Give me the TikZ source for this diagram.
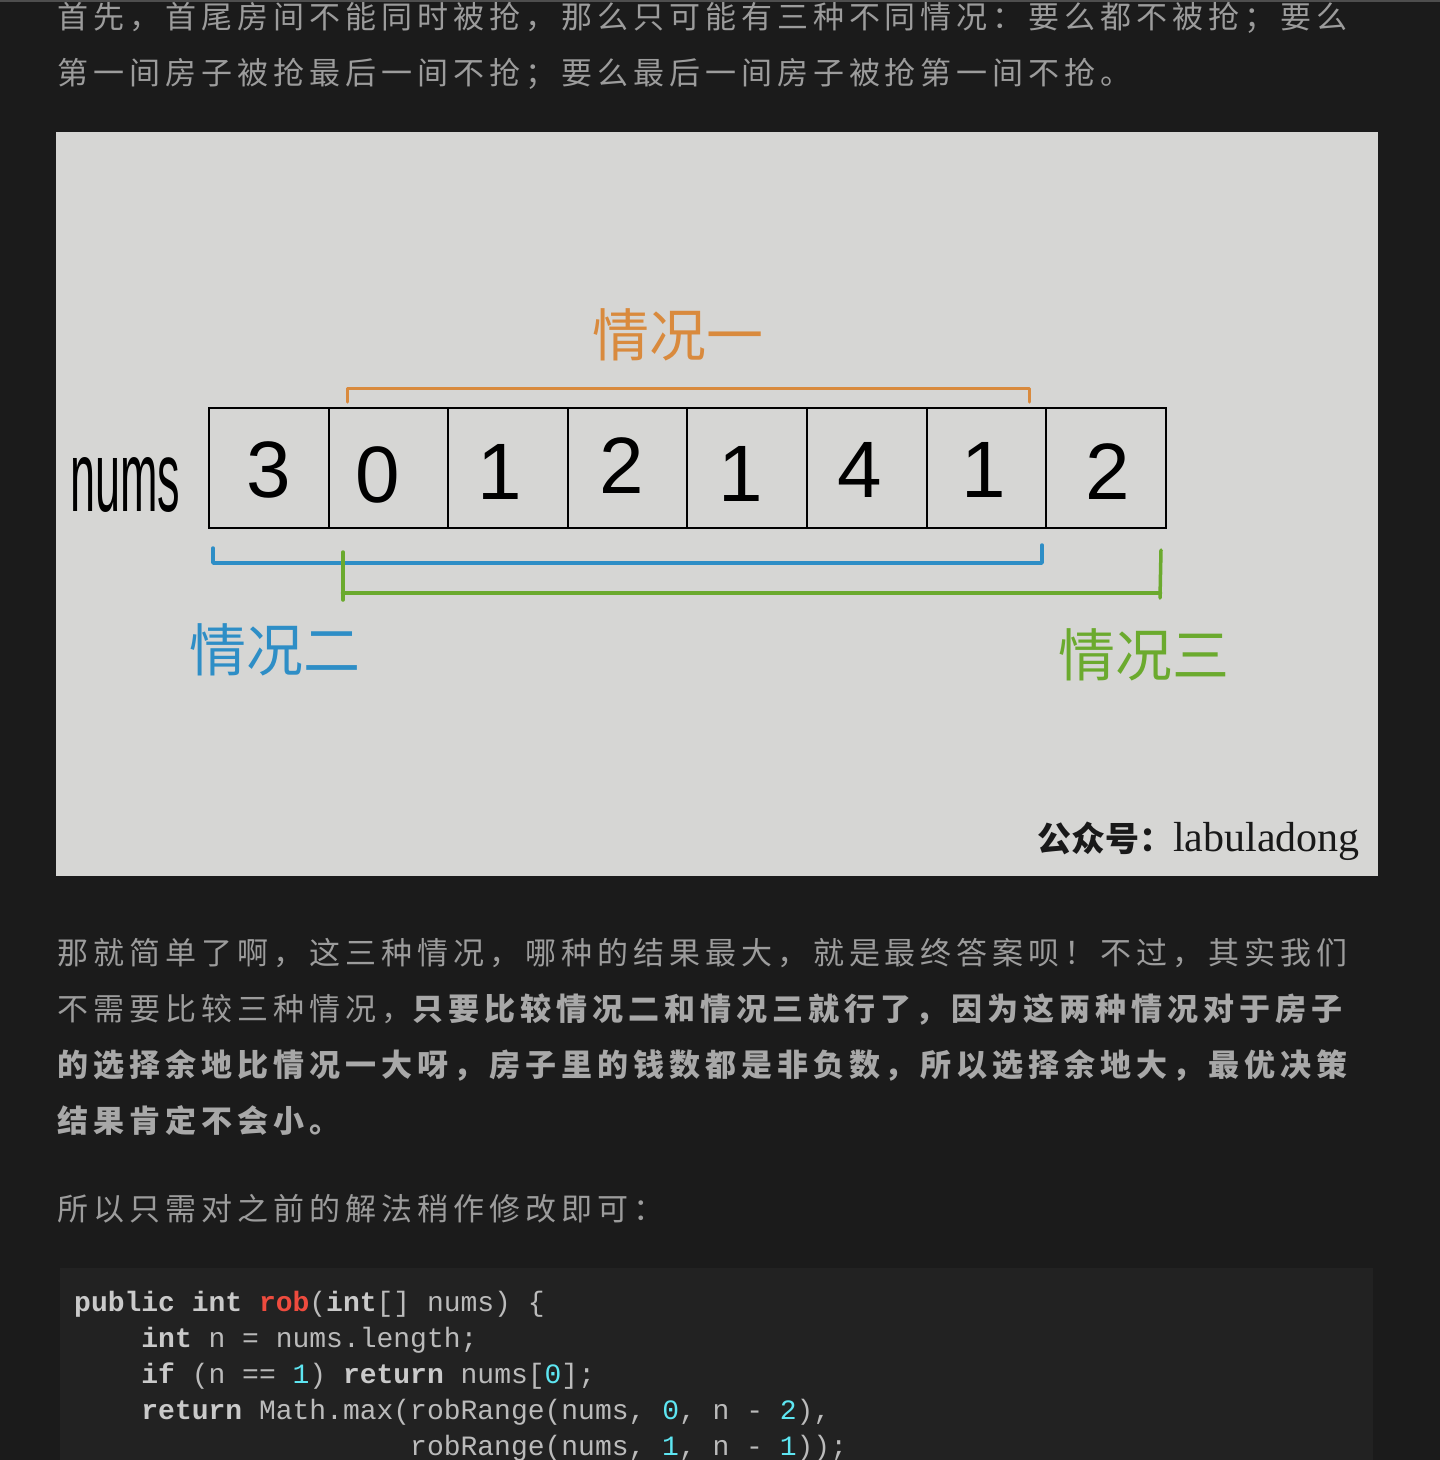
\documentclass[tikz,border=0pt]{standalone}
\usepackage{fontspec}
\setmainfont{Liberation Sans}
\newfontfamily\cjk{Noto Sans CJK SC}
\newfontfamily\bodycjk[LetterSpace=16.1]{Noto Sans CJK SC}
\newfontfamily\codefont{Liberation Mono}
\newfontfamily\wmserif{Liberation Serif}
\definecolor{pagebg}{HTML}{1B1B1B}
\definecolor{topbar}{HTML}{4E4E4E}
\definecolor{imgbg}{HTML}{D6D6D4}
\definecolor{bodygray}{HTML}{9C9C9C}
\definecolor{boldgray}{HTML}{A8A8A8}
\definecolor{codebg}{HTML}{222222}
\definecolor{codegray}{HTML}{BBBBBB}
\definecolor{kwgray}{HTML}{CACACA}
\definecolor{codered}{HTML}{EE4B3E}
\definecolor{codecyan}{HTML}{5EE6F2}
\definecolor{caseone}{HTML}{D98A3D}
\definecolor{casetwo}{HTML}{2E8EC6}
\definecolor{casethree}{HTML}{6BAA2E}
\newcommand{\kw}[1]{{\bfseries\color{kwgray}#1}}
\newcommand{\num}[1]{{\color{codecyan}#1}}
\begin{document}
\begin{tikzpicture}[x=1pt,y=-1pt,
  body/.style={anchor=base west, inner sep=0, text=bodygray, font=\bodycjk\fontsize{31}{36}\selectfont},
  boldbody/.style={body, text=boldgray, font=\bodycjk\bfseries\fontsize{31}{36}\selectfont},
  codeline/.style={anchor=base west, inner sep=0, text=codegray, font=\codefont\fontsize{28}{34}\selectfont},
  cell/.style={draw=black, line width=2pt, minimum width=119.6pt, minimum height=120pt, inner sep=0},
  digit/.style={inner sep=0, text=black, font=\fontsize{80}{80}\selectfont},
  hand/.style={inner sep=0, font=\cjk\fontsize{57}{57}\selectfont},
  bracket/.style={line width=3.5pt, line cap=round, line join=round}
]
\useasboundingbox (0,0) rectangle (1440,1460);
\fill[pagebg] (0,0) rectangle (1440,1460);
\fill[topbar] (0,0) rectangle (1440,2);

% paragraph 1
\node[body] (p1a) at (57,28) {首先，首尾房间不能同时被抢，那么只可能有三种不同情况：要么都不被抢；要么};
\node[body] (p1b) at (57,84) {第一间房子被抢最后一间不抢；要么最后一间房子被抢第一间不抢。};

% image
\fill[imgbg] (56,132) rectangle (1378,876);

\node (nums) at (125,485) {\resizebox{110pt}{54pt}{\fontsize{60}{60}\selectfont nums}};

\foreach \i/\cx in {1/268.8,2/388.4,3/508,4/627.6,5/747.2,6/866.8,7/986.4,8/1106}
  \node[cell] (c\i) at (\cx,468) {};

\node[digit] (d1) at (269,470) {3};
\node[digit] (d2) at (378,475) {0};
\node[digit] (d3) at (500,472) {1};
\node[digit] (d4) at (622,466) {2};
\node[digit] (d5) at (741,474) {1};
\node[digit] (d6) at (860,470) {4};
\node[digit] (d7) at (984,470) {1};
\node[digit] (d8) at (1108,472) {2};

% case brackets
\draw[bracket, caseone, line width=3pt] (347,402) -- (347,388) -- (1029,388) -- (1029,402);
\draw[bracket, casetwo] (213,548) -- (213,563) -- (1042,563) -- (1042,545);
\draw[bracket, casethree] (343,552) -- (343,600);
\draw[bracket, casethree, line width=4.5pt] (343,593) -- (1160,593);
\draw[bracket, casethree] (1161,550) -- (1160,598);

\node[hand, text=caseone] (l1) at (678,335) {情况一};
\node[hand, text=casetwo] (l2) at (275,650) {情况二};
\node[hand, text=casethree] (l3) at (1144,655) {情况三};

\node[anchor=base west, inner sep=0, text=black!90] (wm) at (1037,851)
  {{\cjk\bfseries\fontsize{34}{34}\selectfont 公众号：}{\wmserif\fontsize{42}{42}\selectfont labuladong}};

% paragraph 2
\node[body] (p2a) at (57,964) {那就简单了啊，这三种情况，哪种的结果最大，就是最终答案呗！不过，其实我们};
\node[body] (p2b) at (57,1020) {不需要比较三种情况，{\bfseries\color{boldgray}只要比较情况二和情况三就行了，因为这两种情况对于房子}};
\node[boldbody] (p2c) at (57,1076) {的选择余地比情况一大呀，房子里的钱数都是非负数，所以选择余地大，最优决策};
\node[boldbody] (p2d) at (57,1132) {结果肯定不会小。};

% paragraph 3
\node[body] (p3) at (57,1220) {所以只需对之前的解法稍作修改即可：};

% code block
\fill[codebg] (60,1268) rectangle (1373,1460);
\node[codeline] (k1) at (74,1311) {\kw{public} \kw{int} {\bfseries\color{codered}rob}(\kw{int}[] nums) \{};
\node[codeline] (k2) at (141.2,1347) {\kw{int} n = nums.length;};
\node[codeline] (k3) at (141.2,1383) {\kw{if} (n == \num{1}) \kw{return} nums[\num{0}];};
\node[codeline] (k4) at (141.2,1419) {\kw{return} Math.max(robRange(nums, \num{0}, n - \num{2}),};
\node[codeline] (k5) at (410,1455) {robRange(nums, \num{1}, n - \num{1}));};
\end{tikzpicture}
\end{document}
